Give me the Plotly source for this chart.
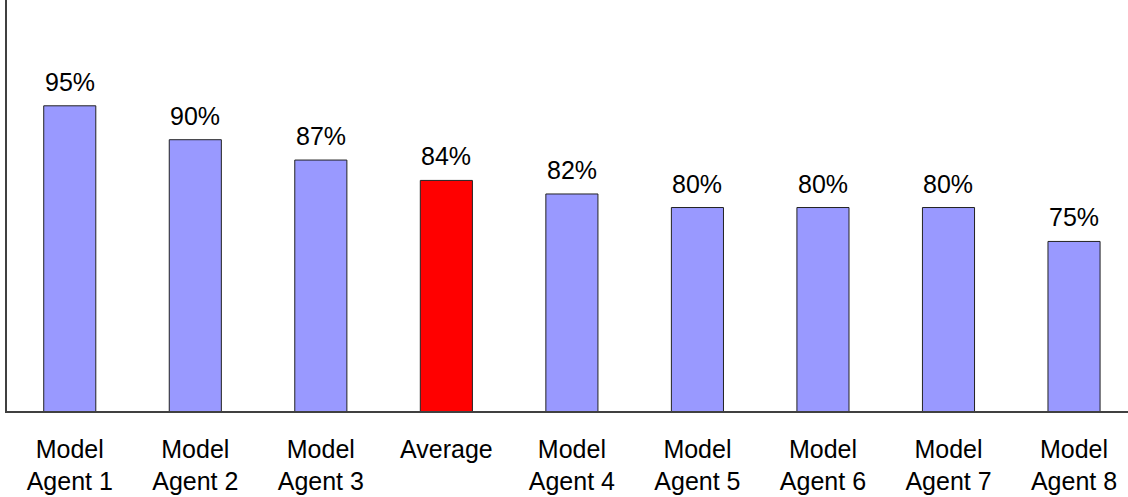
import plotly.graph_objects as go

categories = ["Model<br>Agent 1", "Model<br>Agent 2", "Model<br>Agent 3", "Average",
              "Model<br>Agent 4", "Model<br>Agent 5", "Model<br>Agent 6", "Model<br>Agent 7",
              "Model<br>Agent 8"]
scores = [95, 90, 87, 84, 82, 80, 80, 80, 75]
highlight = "Average"

colors = ["#FF0000" if c == highlight else "#9999FF" for c in categories]
FONT = "Liberation Sans, Arial, sans-serif"

fig = go.Figure(go.Bar(
    x=categories, y=scores, width=0.415,
    marker=dict(color=colors, line=dict(color="#222222", width=1)),
    hoverinfo="skip",
))

for c, v in zip(categories, scores):
    fig.add_annotation(x=c, y=v, text=f"{v}%", showarrow=False,
                       yanchor="bottom", yshift=8,
                       font=dict(family=FONT, size=25, color="#000000"))

fig.update_layout(
    width=1128, height=497,
    margin=dict(l=7, r=0, t=0, b=86),
    paper_bgcolor="white", plot_bgcolor="white",
    showlegend=False,
    font=dict(family=FONT, size=25, color="#000000"),
)
fig.update_xaxes(
    type="category", range=[-0.5, 8.43],
    showline=True, linecolor="#404040", linewidth=1.5,
    showgrid=False, ticks="", ticklabelstandoff=15,
    tickfont=dict(family=FONT, size=25, color="#000000"),
)
fig.update_yaxes(
    range=[50, 110.6], showline=True, linecolor="#404040", linewidth=1.5,
    showgrid=False, zeroline=False, showticklabels=False, ticks="",
)

fig.write_html("out.html")
